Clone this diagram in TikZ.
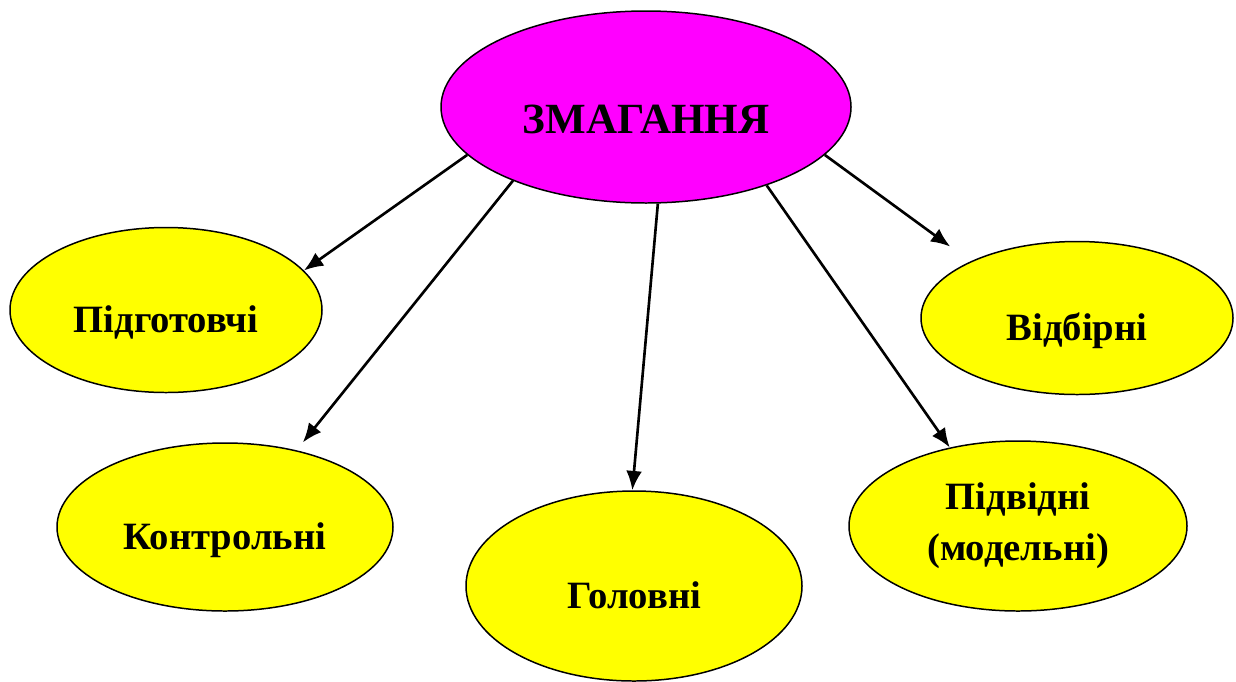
\documentclass[tikz,border=0pt]{standalone}
\usepackage{fontspec}
\setmainfont{Liberation Serif}
\usetikzlibrary{shapes.geometric,arrows.meta}

\definecolor{zmag}{RGB}{255,0,255}
\definecolor{zyel}{RGB}{255,255,0}

\tikzset{
  kind/.style={ellipse, draw, line width=0.85pt, fill=zyel, inner sep=0pt,
    font=\fontsize{22}{29}\selectfont\bfseries, align=center},
  lowered/.style={text height=1cm, text depth=0.1cm}
}

\begin{document}
\begin{tikzpicture}[>={Latex[length=11pt,width=9pt]}]
   \useasboundingbox (0,0) rectangle (24.72,-13.62);

   \node [ellipse, draw, line width=0.85pt, fill=zmag, inner sep=0pt,
          minimum width=8.2cm, minimum height=3.84cm,
          font=\fontsize{24.5}{29}\selectfont\bfseries,
          text height=1.15cm, text depth=0.1cm]
      (vZ) at (12.92,-2.14) {ЗМАГАННЯ};

   \foreach \n/\x/\y/\w/\h/\s/\t in {P/3.32/-6.2/6.24/3.3/lowered/Підготовчі,
       V/21.54/-6.36/6.24/3.06/lowered/Відбірні,
       K/4.5/-10.54/6.72/3.36/lowered/Контрольні,
       H/12.68/-11.72/6.72/3.8/lowered/Головні,
       D/20.36/-10.52/6.76/3.4/kind/{Підвідні\\(модельні)}}
     \node [kind, \s, minimum width=\w cm, minimum height=\h cm]
        (v\n) at (\x,\y) {\t};

    \foreach \a/\j/\b/\l in {195/P/16/0, 209/K/47/0.2, 277/H/91/0, 327/D/131/0, 345/V/152/0.5}
        \draw [->, line width=1.5pt, shorten >=\l cm] (vZ.\a) -- (v\j.\b);

\end{tikzpicture}
\end{document}
